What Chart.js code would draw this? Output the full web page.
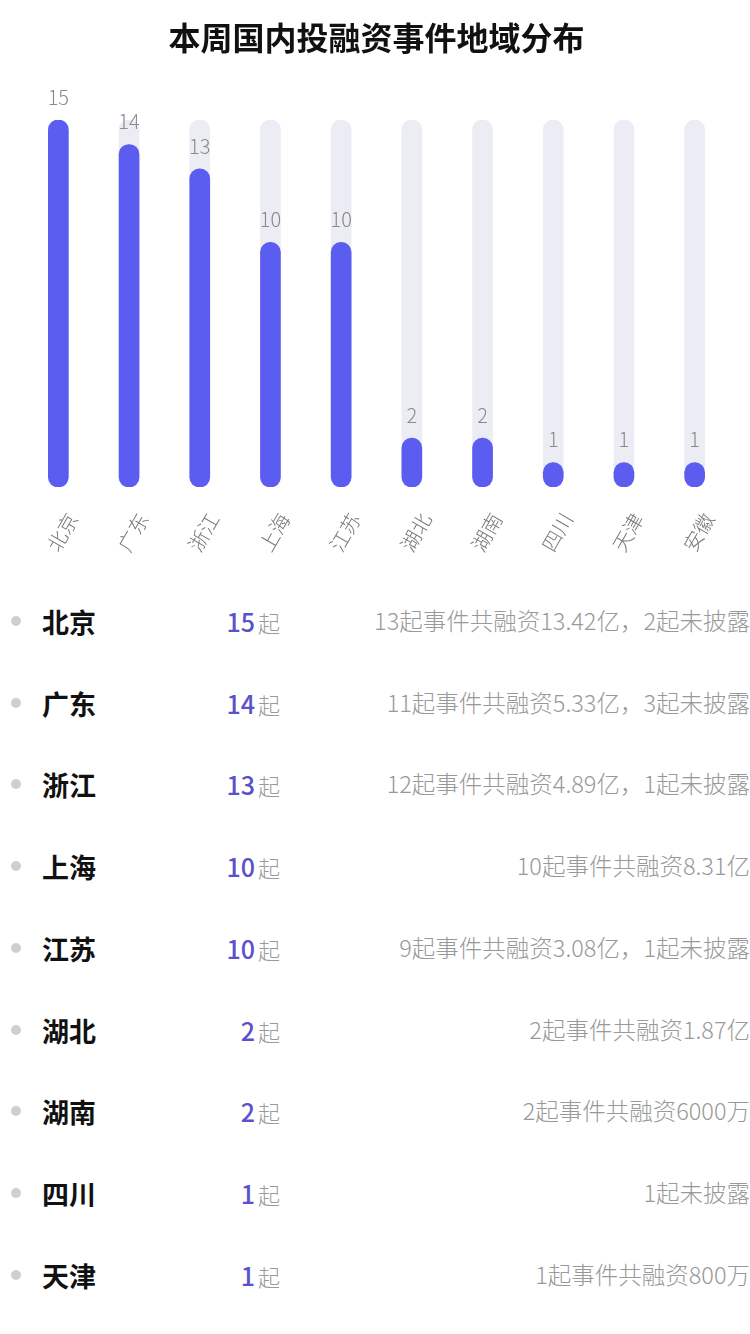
<!DOCTYPE html>
<html lang="zh-CN">
<head>
<meta charset="utf-8">
<title>本周国内投融资事件地域分布</title>
<script src="https://cdn.jsdelivr.net/npm/chart.js@4.4.1/dist/chart.umd.min.js"></script>
<style>
  html, body { margin: 0; padding: 0; background: #fff; }
  body { width: 750px; height: 1334px; overflow: hidden; font-family: "Noto Sans CJK SC", "Noto Sans", sans-serif; }
  #chart-box { position: relative; width: 750px; height: 580px; }
  .row { position: relative; height: 81.75px; }
  .dot { position: absolute; left: 11px; top: 50%; width: 10px; height: 10px; margin-top: -5px; border-radius: 50%; background: #cfcfcf; }
  .name { position: absolute; left: 42px; top: 50%; transform: translateY(-50%); font-size: 27px; font-weight: 700; color: #111; line-height: 1; }
  .count { position: absolute; right: 470px; top: 50%; transform: translateY(-50%); font-size: 22px; font-weight: 300; color: #9a9a9a; line-height: 1; white-space: nowrap; }
  .count b { font-size: 25px; font-weight: 500; color: #5a52cc; margin-right: 3px; }
  .detail { position: absolute; right: 0; top: 50%; transform: translateY(-50%); font-size: 23.5px; font-weight: 300; color: #999; line-height: 1; white-space: nowrap; }
</style>
</head>
<body>
<div id="chart-box"><canvas id="chart"></canvas></div>
<div id="list"></div>
<script>
// Data
const regions = ['北京', '广东', '浙江', '上海', '江苏', '湖北', '湖南', '四川', '天津', '安徽'];
const counts = [15, 14, 13, 10, 10, 2, 2, 1, 1, 1];
const details = [
  '13起事件共融资13.42亿，2起未披露',
  '11起事件共融资5.33亿，3起未披露',
  '12起事件共融资4.89亿，1起未披露',
  '10起事件共融资8.31亿',
  '9起事件共融资3.08亿，1起未披露',
  '2起事件共融资1.87亿',
  '2起事件共融资6000万',
  '1起未披露',
  '1起事件共融资800万'
];
const axisMax = 15;

const fontFamily = '"Noto Sans CJK SC", "Noto Sans", sans-serif';

// Value labels above each bar
const valueLabels = {
  id: 'valueLabels',
  afterDatasetsDraw(chart) {
    const { ctx } = chart;
    const meta = chart.getDatasetMeta(0);
    ctx.save();
    ctx.font = '300 20px ' + fontFamily;
    ctx.fillStyle = '#8a8a8a';
    ctx.textAlign = 'center';
    ctx.textBaseline = 'middle';
    meta.data.forEach((bar, i) => {
      ctx.fillText(String(counts[i]), bar.x, bar.y - 23);
    });
    ctx.restore();
  }
};

new Chart(document.getElementById('chart'), {
  type: 'bar',
  data: {
    labels: regions,
    datasets: [
      {
        data: counts,
        backgroundColor: '#5b5cf0',
        barThickness: 20,
        borderRadius: 10,
        borderSkipped: false,
        grouped: false
      },
      {
        data: regions.map(() => axisMax),
        backgroundColor: '#ececf4',
        barThickness: 20,
        borderRadius: 10,
        borderSkipped: false,
        grouped: false
      }
    ]
  },
  options: {
    responsive: true,
    maintainAspectRatio: false,
    animation: false,
    layout: { padding: { left: 23, right: 20, top: 0, bottom: 13 } },
    scales: {
      x: {
        grid: { display: false },
        border: { display: false },
        ticks: {
          autoSkip: false,
          minRotation: 60,
          maxRotation: 60,
          padding: 14,
          labelOffset: 14,
          color: '#777',
          font: { family: fontFamily, size: 20, weight: '300' }
        },
        afterFit: (scale) => { scale.height = 80; }
      },
      y: { display: false, min: 0, max: axisMax }
    },
    plugins: {
      legend: { display: false },
      tooltip: { enabled: false },
      title: {
        display: true,
        text: '本周国内投融资事件地域分布',
        color: '#111',
        font: { family: fontFamily, size: 32, weight: 'bold' },
        padding: { top: 19, bottom: 62.6 }
      }
    }
  },
  plugins: [valueLabels]
});

// Detail list
const list = document.getElementById('list');
details.forEach((text, i) => {
  const row = document.createElement('div');
  row.className = 'row';
  row.innerHTML = `<span class="dot"></span><span class="name">${regions[i]}</span>` +
    `<span class="count"><b>${counts[i]}</b>起</span><span class="detail">${text}</span>`;
  list.appendChild(row);
});
</script>
</body>
</html>
